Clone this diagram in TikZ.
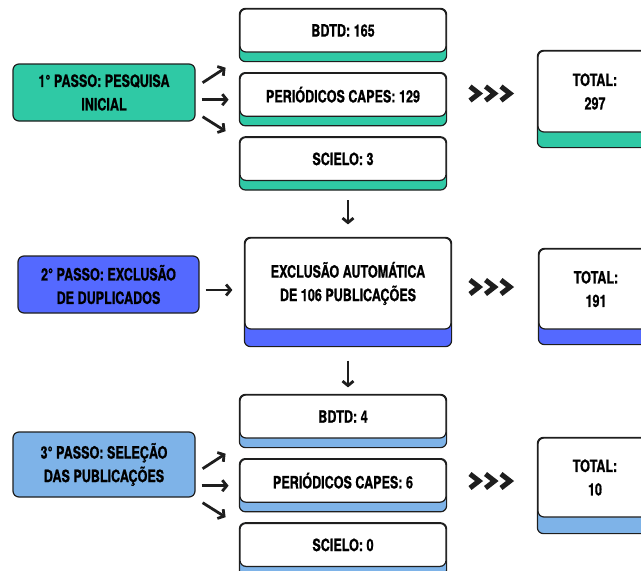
\documentclass[tikz,border=0pt]{standalone}
\usepackage{fontspec}
\setmainfont{TeX Gyre Heros}[FakeStretch=0.74, BoldFeatures={FakeBold=0.8}]
\usetikzlibrary{positioning}
\usetikzlibrary{arrows.meta}
\usetikzlibrary{backgrounds}

\definecolor{verde}{HTML}{2FC9A5}
\definecolor{azul}{HTML}{5469FF}
\definecolor{celeste}{HTML}{7EB3E8}
\definecolor{contorno}{HTML}{1E1E1E}

\begin{document}
\begin{tikzpicture}[x=1pt, y=1pt]

\path[use as bounding box, clip] (0,0) rectangle (641,-571);

\def\BoxWidth{206pt}
\def\BoxHeight{43pt}
\def\Spacing{20pt}

% Styles
\tikzstyle{box} =
	[draw=contorno, line width=1.2pt, rounded corners=6pt, inner sep=0pt,
	 align=center, font=\fontsize{17}{23.5}\selectfont\bfseries]

\tikzstyle{passo} =
	[box, minimum width=182pt, minimum height=57pt]

\tikzstyle{fonte} =
	[box, fill=white, minimum width=\BoxWidth, minimum height=\BoxHeight]

\tikzstyle{total} =
	[box, fill=white, minimum width=114pt, minimum height=80pt]

\tikzstyle{seta} =
	[line width=2.8pt, contorno, -{Straight Barb[length=4.5pt,width=11pt]}]

\tikzstyle{chevron} =
	[line width=5pt, contorno]

% colored strip under a white box
\newcommand{\Base}[3]{%
	\begin{scope}[on background layer]
	\draw[draw=contorno, line width=1.2pt, rounded corners=6pt, fill=#2]
		(#1.north west) rectangle ([yshift=-#3]#1.south east);
	\end{scope}}

\newcommand{\Chevrons}[1]{%
	\foreach \i in {0,1,2}
		\draw[chevron] ([xshift=\i*15.5pt-21pt, yshift=7pt]#1)
			-- ++(9,-7) -- ++(-9,-7);}

% Modules

\node (Passo1) at (104,-92.5) [passo, fill=verde] {1° PASSO: PESQUISA\\INICIAL};
\node (Bdtd1) at (343,-30.5) [fonte] {BDTD: 165};
\node (Periodicos1) [fonte, below=\Spacing of Bdtd1] {PERIÓDICOS CAPES: 129};
\node (Scielo1) [fonte, below=\Spacing of Periodicos1] {SCIELO: 3};
\node (Total1) at (595,-91.5) [total, minimum height=81pt] {TOTAL:\\297};

\node (Passo2) at (108.5,-284.5) [passo, fill=azul, minimum width=181pt] {2° PASSO: EXCLUSÃO\\DE DUPLICADOS};
\node (Exclusao) at (348,-283.5) [fonte, minimum height=91pt] {EXCLUSÃO AUTOMÁTICA\\DE 106 PUBLICAÇÕES};
\node (Total2) at (596,-289) [total] {TOTAL:\\191};

\node (Passo3) at (104,-464.5) [passo, fill=celeste, minimum height=65pt] {3° PASSO: SELEÇÃO\\DAS PUBLICAÇÕES};
\node (Bdtd2) at (343,-416.5) [fonte] {BDTD: 4};
\node (Periodicos2) [fonte, below=\Spacing of Bdtd2] {PERIÓDICOS CAPES: 6};
\node (Scielo2) [fonte, below=\Spacing of Periodicos2] {SCIELO: 0};
\node (Total3) at (595,-477.5) [total, minimum height=79pt] {TOTAL:\\10};

\Base{Bdtd1}{verde}{9pt}
\Base{Periodicos1}{verde}{9pt}
\Base{Scielo1}{verde}{9pt}
\Base{Total1}{verde}{15pt}
\Base{Exclusao}{azul}{17pt}
\Base{Total2}{azul}{15pt}
\Base{Bdtd2}{celeste}{9pt}
\Base{Periodicos2}{celeste}{9pt}
\Base{Scielo2}{celeste}{9pt}
\Base{Total3}{celeste}{16pt}

% Edges

\coordinate (Origem1) at (Passo1.east |- Periodicos1);
\coordinate (Origem3) at (Passo3.east |- Periodicos2);

\foreach \o in {Origem1, Origem3} {
	\draw[seta] ([shift={(7,12)}]\o) -- ([shift={(30,27)}]\o);
	\draw[seta] ([shift={(6,-5)}]\o) -- ([shift={(33,-5)}]\o);
	\draw[seta] ([shift={(7,-22)}]\o) -- ([shift={(30,-36.5)}]\o);
}

\draw[seta] ([shift={(6,-5.5)}]Passo2.east) -- ([shift={(-12,-5.5)}]Exclusao.west |- Passo2);

\draw[seta] ([yshift=-19]Scielo1.south -| Exclusao) -- ([yshift=13]Exclusao.north);
\draw[seta] ([yshift=-31]Exclusao.south) -- ([yshift=7]Bdtd2.north -| Exclusao);

\coordinate (Seta1) at (491,-93.5);
\coordinate (Seta2) at (491,-287);
\coordinate (Seta3) at (491,-481);
\Chevrons{Seta1}
\Chevrons{Seta2}
\Chevrons{Seta3}

\end{tikzpicture}
\end{document}
